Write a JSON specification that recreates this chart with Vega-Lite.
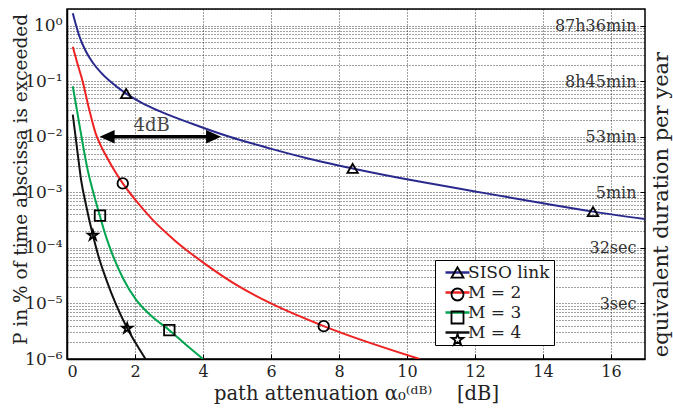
{
  "$schema": "https://vega.github.io/schema/vega-lite/v6.json",
  "width": 578,
  "height": 350,
  "autosize": {"type": "none"},
  "padding": {"left": 67, "top": 9, "right": 28, "bottom": 51},
  "background": "white",
  "config": {
    "font": "DejaVu Serif",
    "view": {"stroke": "black", "strokeWidth": 1.5},
    "axis": {
      "domainColor": "black", "domainWidth": 1.5,
      "labelFont": "DejaVu Serif", "titleFont": "DejaVu Serif",
      "labelColor": "#222", "titleColor": "#222", "titleFontWeight": "normal",
      "gridColor": "black", "gridDash": [1, 2], "gridOpacity": 0.75, "gridWidth": 1,
      "tickColor": "black"
    },
    "legend": {"labelFont": "DejaVu Serif"},
    "text": {"font": "DejaVu Serif"}
  },
  "datasets": {
    "curves": [
      {"series": "SISO link", "x": 0.17, "p": 1.68},
      {"series": "SISO link", "x": 0.37, "p": 0.63},
      {"series": "SISO link", "x": 0.55, "p": 0.35},
      {"series": "SISO link", "x": 0.76, "p": 0.215},
      {"series": "SISO link", "x": 1.0, "p": 0.143},
      {"series": "SISO link", "x": 1.25, "p": 0.102},
      {"series": "SISO link", "x": 1.74, "p": 0.06},
      {"series": "SISO link", "x": 2.2, "p": 0.041},
      {"series": "SISO link", "x": 2.72, "p": 0.029},
      {"series": "SISO link", "x": 3.7, "p": 0.017},
      {"series": "SISO link", "x": 4.78, "p": 0.01},
      {"series": "SISO link", "x": 5.96, "p": 0.0062},
      {"series": "SISO link", "x": 7.0, "p": 0.0042},
      {"series": "SISO link", "x": 8.4, "p": 0.0027},
      {"series": "SISO link", "x": 10.4, "p": 0.00155},
      {"series": "SISO link", "x": 12.0, "p": 0.00104},
      {"series": "SISO link", "x": 14.04, "p": 0.00063},
      {"series": "SISO link", "x": 15.47, "p": 0.00045},
      {"series": "SISO link", "x": 17.0, "p": 0.00033},
      {"series": "M = 2", "x": 0.17, "p": 0.417},
      {"series": "M = 2", "x": 0.3, "p": 0.215},
      {"series": "M = 2", "x": 0.46, "p": 0.1},
      {"series": "M = 2", "x": 0.65, "p": 0.0316},
      {"series": "M = 2", "x": 0.85, "p": 0.0112},
      {"series": "M = 2", "x": 1.0, "p": 0.0068},
      {"series": "M = 2", "x": 1.2, "p": 0.004},
      {"series": "M = 2", "x": 1.4, "p": 0.00245},
      {"series": "M = 2", "x": 1.64, "p": 0.00145},
      {"series": "M = 2", "x": 2.03, "p": 0.00071},
      {"series": "M = 2", "x": 2.5, "p": 0.00033},
      {"series": "M = 2", "x": 3.16, "p": 0.000138},
      {"series": "M = 2", "x": 4.09, "p": 0.00005},
      {"series": "M = 2", "x": 5.07, "p": 0.00002},
      {"series": "M = 2", "x": 6.0, "p": 0.00001},
      {"series": "M = 2", "x": 7.55, "p": 0.0000039},
      {"series": "M = 2", "x": 10.37, "p": 0.000001},
      {"series": "M = 3", "x": 0.17, "p": 0.0813},
      {"series": "M = 3", "x": 0.32, "p": 0.024},
      {"series": "M = 3", "x": 0.46, "p": 0.0076},
      {"series": "M = 3", "x": 0.61, "p": 0.0025},
      {"series": "M = 3", "x": 0.8, "p": 0.00087},
      {"series": "M = 3", "x": 0.96, "p": 0.00039},
      {"series": "M = 3", "x": 1.15, "p": 0.000158},
      {"series": "M = 3", "x": 1.35, "p": 0.0000724},
      {"series": "M = 3", "x": 1.65, "p": 0.0000282},
      {"series": "M = 3", "x": 2.03, "p": 0.0000117},
      {"series": "M = 3", "x": 2.5, "p": 0.0000058},
      {"series": "M = 3", "x": 3.01, "p": 0.0000033},
      {"series": "M = 3", "x": 3.5, "p": 0.0000018},
      {"series": "M = 3", "x": 4.0, "p": 0.000001},
      {"series": "M = 4", "x": 0.17, "p": 0.025},
      {"series": "M = 4", "x": 0.32, "p": 0.0047},
      {"series": "M = 4", "x": 0.42, "p": 0.0016},
      {"series": "M = 4", "x": 0.55, "p": 0.00063},
      {"series": "M = 4", "x": 0.76, "p": 0.00017},
      {"series": "M = 4", "x": 0.95, "p": 0.000063},
      {"series": "M = 4", "x": 1.15, "p": 0.0000275},
      {"series": "M = 4", "x": 1.45, "p": 0.0000093},
      {"series": "M = 4", "x": 1.76, "p": 0.0000037},
      {"series": "M = 4", "x": 2.05, "p": 0.0000018},
      {"series": "M = 4", "x": 2.31, "p": 0.000001}
    ],
    "markers": [
      {"m": "s1", "x": 1.74, "p": 0.06},
      {"m": "s1", "x": 8.4, "p": 0.0027},
      {"m": "s1", "x": 15.47, "p": 0.00045},
      {"m": "s2", "x": 1.64, "p": 0.00145},
      {"m": "s2", "x": 7.55, "p": 0.0000039},
      {"m": "s3", "x": 0.97, "p": 0.00038},
      {"m": "s3", "x": 3.01, "p": 0.0000033},
      {"m": "s4", "x": 0.76, "p": 0.00017},
      {"m": "s4", "x": 1.77, "p": 0.0000036}
    ]
  },
  "layer": [
    {
      "data": {"name": "curves"},
      "mark": {"type": "line", "strokeWidth": 2, "interpolate": "monotone", "clip": true},
      "encoding": {
        "x": {
          "field": "x", "type": "quantitative",
          "scale": {"domain": [0, 17], "nice": false, "zero": false},
          "axis": {
            "values": [0, 2, 4, 6, 8, 10, 12, 14, 16],
            "grid": true, "gridDash": [1, 2],
            "tickSize": -5, "labelPadding": 9, "labelFontSize": 16,
            "title": "path attenuation α₀⁽ᵈᴮ⁾\u00a0\u00a0\u00a0\u00a0[dB]", "titleFontSize": 19.5, "titlePadding": 5
          }
        },
        "y": {
          "field": "p", "type": "quantitative",
          "scale": {"type": "log", "domain": [0.000001, 2], "nice": false},
          "axis": {
            "values": [0.000001, 0.000002, 0.000003, 0.000004, 0.000005, 0.000006, 0.000007, 0.000008, 0.000009,
                       0.00001, 0.00002, 0.00003, 0.00004, 0.00005, 0.00006, 0.00007, 0.00008, 0.00009,
                       0.0001, 0.0002, 0.0003, 0.0004, 0.0005, 0.0006, 0.0007, 0.0008, 0.0009,
                       0.001, 0.002, 0.003, 0.004, 0.005, 0.006, 0.007, 0.008, 0.009,
                       0.01, 0.02, 0.03, 0.04, 0.05, 0.06, 0.07, 0.08, 0.09,
                       0.1, 0.2, 0.3, 0.4, 0.5, 0.6, 0.7, 0.8, 0.9, 1, 2],
            "labelExpr": "datum.value==1?'10⁰':datum.value==0.1?'10⁻¹':datum.value==0.01?'10⁻²':datum.value==0.001?'10⁻³':datum.value==0.0001?'10⁻⁴':datum.value==0.00001?'10⁻⁵':datum.value==0.000001?'10⁻⁶':''",
            "labelOverlap": false, "labelFontSize": 17, "labelPadding": 5,
            "ticks": false, "grid": true,
            "title": "P in % of time abscissa is exceeded", "titleFontSize": 18.5,
            "titleAngle": 270, "titleBaseline": "alphabetic", "titleX": -41, "titleY": 170, "titleAlign": "center"
          }
        },
        "color": {
          "field": "series", "type": "nominal",
          "scale": {"domain": ["SISO link", "M = 2", "M = 3", "M = 4"], "range": ["#2a2a8e", "#ee2222", "#00a550", "#111111"]},
          "legend": {
            "orient": "none", "legendX": 368, "legendY": 251, "title": null,
            "symbolType": "M-2,0L2,0", "symbolSize": 144, "symbolStrokeWidth": 2.5,
            "symbolOffset": 10, "labelOffset": 2, "padding": 4, "rowPadding": 2,
            "labelFontSize": 17, "labelColor": "#222",
            "strokeColor": "black", "fillColor": "white", "labelLimit": 200
          }
        }
      }
    },
    {
      "data": {"name": "markers"},
      "mark": {"type": "point", "filled": false, "color": "black", "strokeWidth": 1.8, "opacity": 1, "size": 110},
      "encoding": {
        "x": {"field": "x", "type": "quantitative"},
        "y": {
          "field": "p", "type": "quantitative",
          "axis": {
            "orient": "right",
            "values": [1, 0.1, 0.01, 0.001, 0.0001, 0.00001],
            "labelExpr": "datum.value==1?'87h36min':datum.value==0.1?'8h45min':datum.value==0.01?'53min':datum.value==0.001?'5min':datum.value==0.0001?'32sec':datum.value==0.00001?'3sec':''",
            "labelAlign": "right", "labelPadding": -4, "tickSize": -5, "labelFontSize": 16,
            "labelColor": "#333", "grid": false, "domain": false,
            "title": "equivalent duration per year", "titleFontSize": 21,
            "titleAngle": 270, "titleBaseline": "alphabetic", "titleX": 22, "titleY": 195, "titleAlign": "center"
          }
        },
        "shape": {
          "field": "m", "type": "nominal",
          "scale": {"domain": ["s1", "s2", "s3", "s4"],
                    "range": ["triangle-up", "circle", "square", "M0,-0.95L0.2245,-0.259L0.951,-0.259L0.363,0.168L0.588,0.859L0,0.432L-0.588,0.859L-0.363,0.168L-0.951,-0.259L-0.2245,-0.259Z"]},
          "legend": {
            "orient": "none", "legendX": 368, "legendY": 251, "title": null,
            "symbolSize": 144, "symbolStrokeWidth": 1.8, "symbolStrokeColor": "black", "symbolFillColor": "transparent",
            "symbolOffset": 10, "labelOffset": 2, "padding": 4, "rowPadding": 2,
            "labelFontSize": 17, "labelOpacity": 0,
            "labelExpr": "' '"
          }
        }
      }
    },
    {
      "data": {"values": [{"x1": 1.18, "x2": 4.31, "p": 0.01}]},
      "mark": {"type": "rule", "color": "black", "strokeWidth": 3.5},
      "encoding": {
        "x": {"field": "x1", "type": "quantitative"},
        "x2": {"field": "x2"},
        "y": {"field": "p", "type": "quantitative", "axis": null}
      }
    },
    {
      "data": {"values": [{"x": 1.18, "p": 0.01}]},
      "mark": {"type": "point", "shape": "M-1,0L1,-0.9L1,0.9Z", "filled": true, "color": "black", "size": 225, "opacity": 1},
      "encoding": {
        "x": {"field": "x", "type": "quantitative"},
        "y": {"field": "p", "type": "quantitative", "axis": null}
      }
    },
    {
      "data": {"values": [{"x": 4.31, "p": 0.01}]},
      "mark": {"type": "point", "shape": "M1,0L-1,-0.9L-1,0.9Z", "filled": true, "color": "black", "size": 225, "opacity": 1},
      "encoding": {
        "x": {"field": "x", "type": "quantitative"},
        "y": {"field": "p", "type": "quantitative", "axis": null}
      }
    },
    {
      "data": {"values": [{"x": 2.49, "p": 0.0126, "label": "4dB"}]},
      "mark": {"type": "text", "fontSize": 18, "color": "#444", "baseline": "alphabetic", "align": "center"},
      "encoding": {
        "x": {"field": "x", "type": "quantitative"},
        "y": {"field": "p", "type": "quantitative", "axis": null},
        "text": {"field": "label"}
      }
    }
  ],
  "resolve": {"axis": {"y": "independent"}, "legend": {"color": "independent", "shape": "independent"}}
}
